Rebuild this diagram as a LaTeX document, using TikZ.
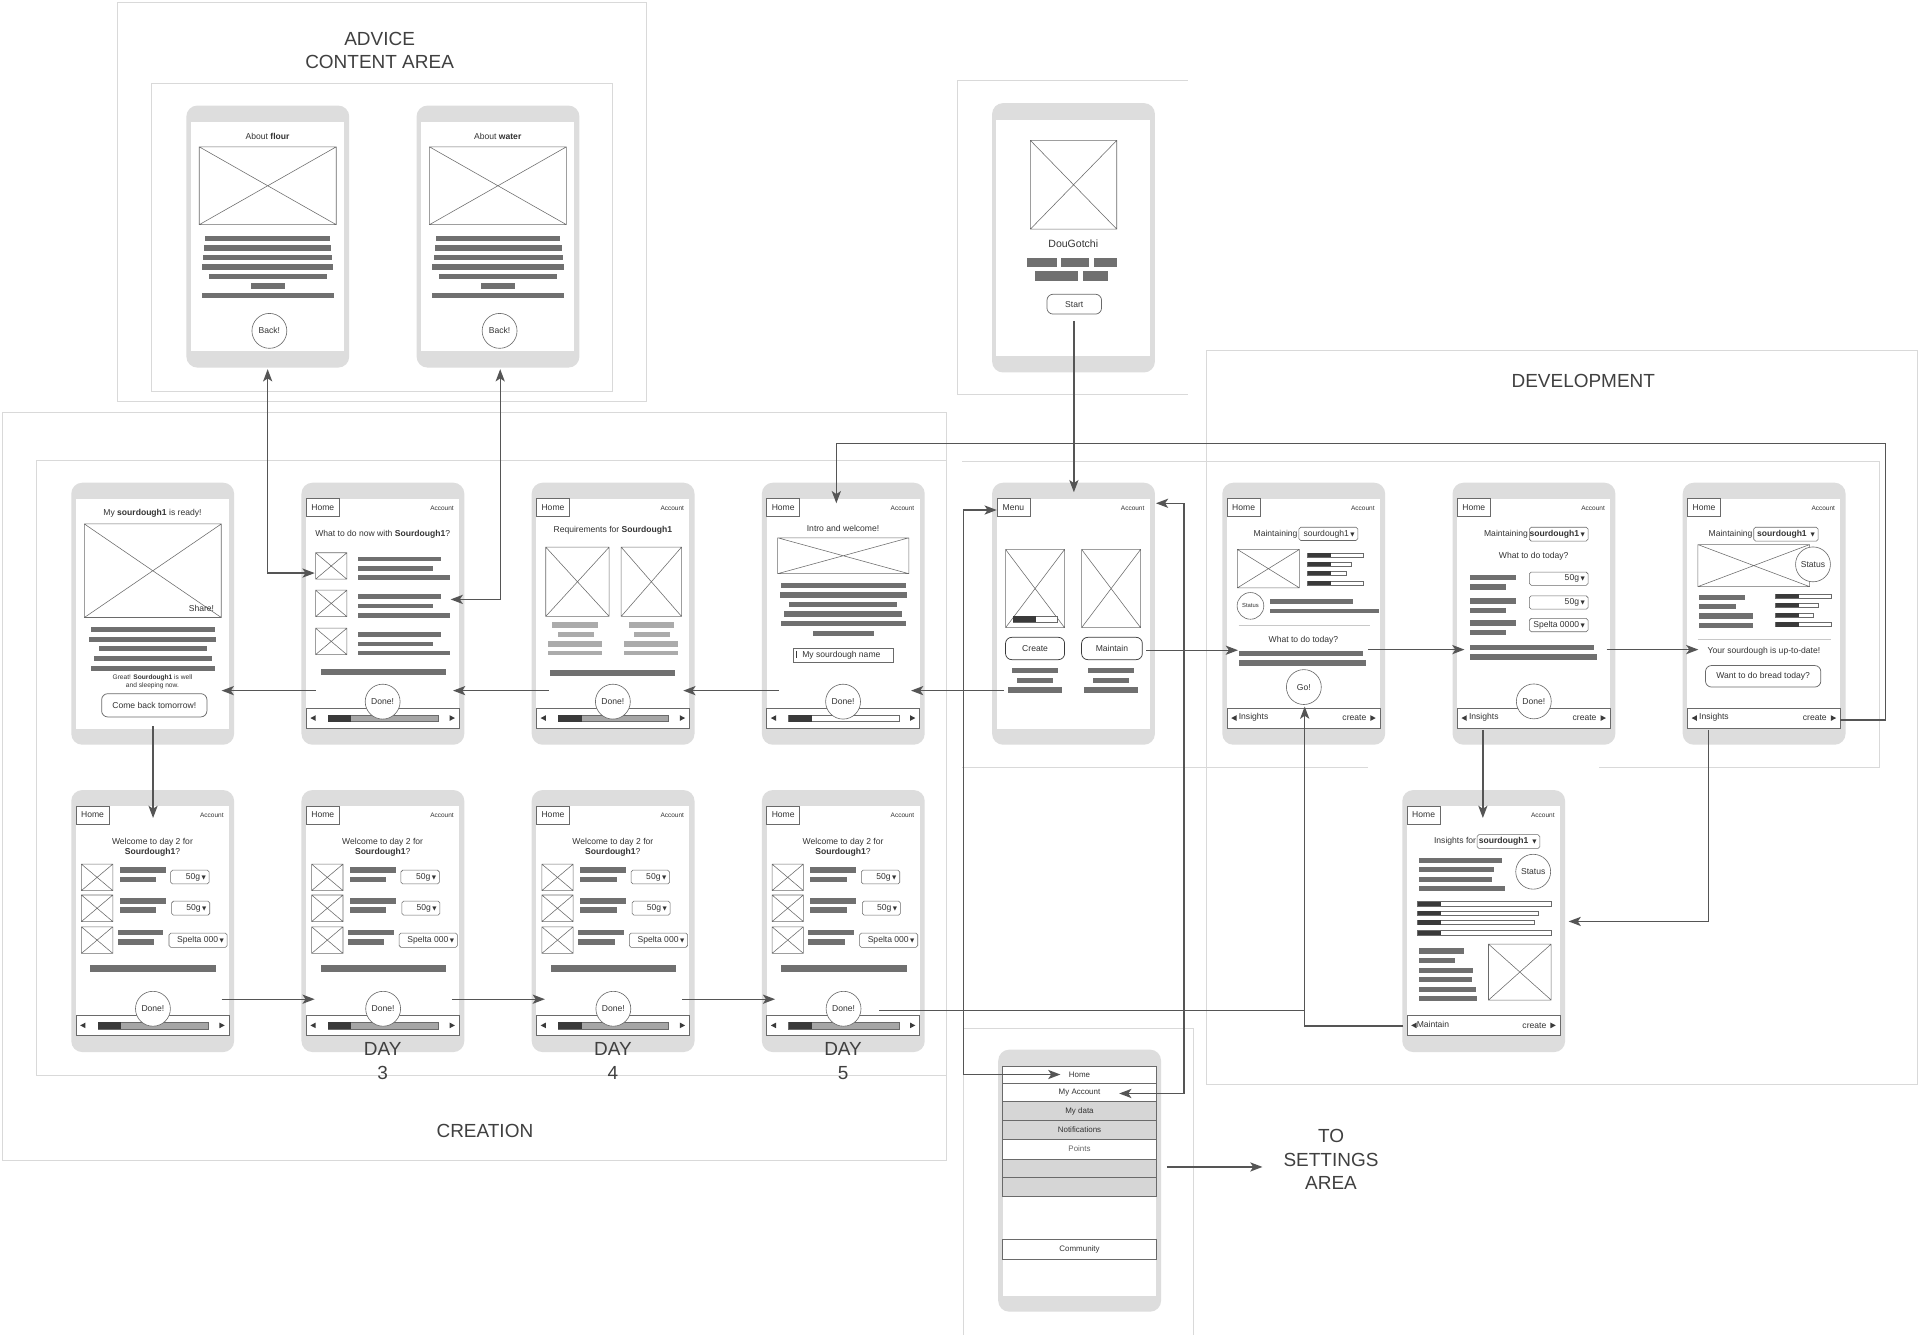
\documentclass[tikz,border=0pt]{standalone}
\usepackage{fontspec}
\setmainfont{Liberation Sans}
\newfontfamily\symf{DejaVu Sans}
\usetikzlibrary{arrows.meta}
\definecolor{phoneg}{HTML}{DDDDDD}
\definecolor{barg}{HTML}{707070}
\definecolor{darkg}{HTML}{3A3A3A}
\definecolor{lbarg}{HTML}{ABABAB}
\definecolor{progg}{HTML}{A6A6A6}
\definecolor{lineg}{HTML}{555555}
\definecolor{frameg}{HTML}{D9D9D9}
\definecolor{outl}{HTML}{6A6A6A}
\definecolor{txtc}{HTML}{333333}
\definecolor{rowg}{HTML}{D6D6D6}
\definecolor{sepg}{HTML}{C8C8C8}
\newcommand\ddtri{\hspace{1.2pt}{\symf\fontsize{4.5}{5}\selectfont ▼}}
\newcommand\wfimg[4]{\draw[imgbox] (#1,#2) rectangle (#3,#4) (#1,#2) -- (#3,#4) (#1,#4) -- (#3,#2);}
\newcommand\wfbar[4]{\fill[barg] (#1,#2) rectangle (#3,#4);}
\newcommand\wflbar[4]{\fill[lbarg] (#1,#2) rectangle (#3,#4);}
\newcommand\wfpbar[5]{\draw[outl,line width=.4pt,fill=white] (#1,#2) rectangle (#4,#5); \fill[darkg] (#1,#2) rectangle (#3,#5);}
\newcommand\wfscreen{\fill[white] (4,13.3) rectangle (129,201);}
\newcommand\wfhead[2]{\node[hdbox] (#1-hd) at (17.6,20.6) {#2}; \node[acct] (#1-ac) at (115,21) {Account};}
\newcommand\wfnav{\draw[navbox] (4,184.3) rectangle (129,200.5); \fill[darkg] (7.5,192.4) -- (11.8,190.1) -- (11.8,194.7) -- cycle; \fill[darkg] (125.5,192.4) -- (121.2,190.1) -- (121.2,194.7) -- cycle;}
\newcommand\wfprog[1]{\draw[outl,line width=.4pt,fill=#1] (22,189.7) rectangle (112,195.3); \fill[darkg] (22,189.7) rectangle (41,195.3);}
\newcommand\wfnavtx[3]{\node[tx,anchor=west] (#1-nl) at (13.5,191.6) {#2}; \node[tx,anchor=east] (#1-nr) at (118,192.4) {#3};}
\newcommand\wfdrop[6]{\draw[outl,line width=.45pt,rounded corners=1.5pt] (#2,#3) rectangle (#4,#5); \node[tx,anchor=east] (#1) at ({#4-2.5},{(#3+#5)/2}) {#6};}
\newcommand\wfadv[2]{%
 \node[phone] (#1) at (0,0) {};
 \fill[white] (4,13.5) rectangle (129,201);
 \node[tx] (#1-t) at (66.5,25.7) {About \textbf{#2}};
 \wfimg{10.7}{33.9}{122.6}{97.5}
 \wfbar{15.7}{106.5}{117.5}{110.8}
 \wfbar{14.9}{114.3}{118.6}{118.7}
 \wfbar{14.1}{122.2}{119.5}{126.5}
 \wfbar{13.2}{129.8}{120.3}{134.4}
 \wfbar{18.6}{137.9}{114.7}{142.2}
 \wfbar{53.2}{145.5}{80.5}{149.8}
 \wfbar{13}{153.3}{120.6}{157.7}
 \node[btncirc] (#1-bk) at (68,184.2) {Back!};}
\begin{document}
\begin{tikzpicture}[x=1pt,y=-1pt,
  phone/.style={fill=phoneg,rounded corners=9pt,minimum width=133pt,minimum height=214pt,anchor=north west,inner sep=0pt,draw=none},
  imgbox/.style={draw=outl,line width=.45pt},
  tx/.style={font=\fontsize{7}{8.2}\selectfont,text=txtc,inner sep=0pt},
  hdbox/.style={draw=outl,line width=.55pt,fill=white,minimum width=27pt,minimum height=14.5pt,inner sep=0pt,font=\fontsize{7}{8}\selectfont,text=txtc},
  acct/.style={font=\fontsize{5.3}{6}\selectfont,text=txtc,inner sep=0pt},
  navbox/.style={draw=outl,line width=.55pt,fill=white},
  btncirc/.style={circle,draw=outl,line width=.5pt,fill=white,minimum size=28.5pt,inner sep=0pt,font=\fontsize{7}{8}\selectfont,text=txtc},
  btnr/.style={draw=darkg,line width=.6pt,rounded corners=5pt,fill=white,inner sep=0pt,font=\fontsize{7}{8}\selectfont,text=txtc},
  conn/.style={draw=lineg,line width=1.1pt,-{Stealth[length=10pt,width=7.5pt,inset=2.5pt]}},
  conn2/.style={draw=lineg,line width=1.1pt,{Stealth[length=10pt,width=7.5pt,inset=2.5pt]}-{Stealth[length=10pt,width=7.5pt,inset=2.5pt]}},
  connl/.style={draw=lineg,line width=1.1pt},
  frame/.style={draw=frameg,line width=.7pt},
  big/.style={font=\fontsize{15.5}{19}\selectfont,text=black!75,align=center,inner sep=0pt},
  sepline/.style={draw=sepg,line width=.6pt},
  rowbox/.style={draw=outl,line width=.5pt,minimum width=125.6pt,inner sep=0pt,font=\fontsize{6.5}{7}\selectfont,text=txtc}]
\useasboundingbox (0,0) rectangle (1568,1090);
\fill[white] (0,0) rectangle (1568,1090);
% area frames
\draw[frame] (96,2) rectangle (528,328);
\draw[frame] (124,68) rectangle (500,320);
\draw[frame] (970,66) -- (782,66) -- (782,322) -- (970,322);
\draw[frame] (2,337) rectangle (773,948);
\draw[frame] (773,376) -- (30,376) -- (30,878) -- (773,878);
\draw[frame] (985,286) rectangle (1566,886);
\draw[frame] (786,377) -- (1535,377) -- (1535,627) -- (1306,627);
\draw[frame] (1117,627) -- (786,627);
\draw[frame] (787,1090) -- (787,840) -- (975,840) -- (975,1090);
% advice phones
\begin{scope}[shift={(152,86)}] \wfadv{adv1}{flour} \end{scope}
\begin{scope}[shift={(340,86)}] \wfadv{adv2}{water} \end{scope}
% start phone
\begin{scope}[shift={(810,84)}]
\node[phone,minimum height=220pt] (st) at (0,0) {};
\fill[white] (3.5,13.8) rectangle (129.5,206.5);
\wfimg{31.5}{30.7}{102}{103.1}
\node[tx,font=\fontsize{8.6}{10}\selectfont] (st-n) at (66.5,115) {DouGotchi};
\wfbar{28.5}{126.7}{53}{134.3} \wfbar{56.7}{126.7}{79.5}{134.3} \wfbar{83.3}{126.7}{102.6}{134.3}
\wfbar{35.3}{137.3}{70.3}{145.4} \wfbar{74.1}{137.3}{95.2}{145.4}
\node[btnr,draw=outl,minimum width=44.6pt,minimum height=16.2pt] (st-b) at (67.3,164.4) {Start};
\end{scope}
% C1
\begin{scope}[shift={(58,394)}]
\node[phone] (c1) at (0,0) {};
\wfscreen
\node[tx] (c1-t) at (66.5,25.5) {My \textbf{sourdough1} is ready!};
\wfimg{10.9}{33.9}{122.7}{110.3}
\node[tx] (c1-sh) at (106.5,102.5) {Share!};
\wfbar{16}{118.4}{117.5}{122.4}
\wfbar{14.9}{126}{118.6}{130}
\wfbar{22.8}{133.5}{110.7}{137.6}
\wfbar{18.7}{141.4}{114.8}{145.5}
\wfbar{16}{149.5}{117.5}{153.6}
\node[tx,font=\fontsize{5.4}{6.4}\selectfont,align=center] (c1-g) at (66.5,162.6) {Great! \textbf{Sourdough1} is well\\and sleeping now.};
\node[btnr,draw=outl,minimum width=86pt,minimum height=19pt] (c1-b) at (68,182) {Come back tomorrow!};
\end{scope}
% C2
\begin{scope}[shift={(246,394)}]
\node[phone] (c2) at (0,0) {};
\wfscreen \wfhead{c2}{Home}
\node[tx] (c2-t) at (66.5,42) {What to do now with \textbf{Sourdough1}?};
\foreach \dy in {0,30.6,61.6}{
 \wfimg{11.7}{57.4+\dy}{37.3}{79+\dy}
 \wfbar{46.3}{60.7+\dy}{114.5}{64.5+\dy}
 \wfbar{46.3}{68.3+\dy}{107.7}{72+\dy}
 \wfbar{46.3}{75.9+\dy}{121.3}{79.7+\dy}}
\wfbar{16.4}{152.3}{118}{156.9}
\wfnav \wfprog{progg}
\node[btncirc] (c2-dn) at (66.5,179) {Done!};
\end{scope}
% C3
\begin{scope}[shift={(434,394)}]
\node[phone] (c3) at (0,0) {};
\wfscreen \wfhead{c3}{Home}
\node[tx] (c3-t) at (66.5,39.3) {Requirements for \textbf{Sourdough1}};
\wfimg{11.7}{52.8}{63.5}{109.4} \wfimg{73.3}{52.8}{122.6}{109.4}
\foreach \dx in {0,62.1}{
 \wflbar{17.2+\dx}{114.3}{54.5+\dx}{118.6}
 \wflbar{21.3+\dx}{121.9}{50.7+\dx}{126.2}
 \wflbar{13.9+\dx}{129.8}{58+\dx}{134.1}
 \wflbar{13.9+\dx}{137.6}{58+\dx}{140.9}}
\wfbar{15.5}{153.3}{117.2}{158.2}
\wfnav \wfprog{progg}
\node[btncirc] (c3-dn) at (66.5,179) {Done!};
\end{scope}
% C4
\begin{scope}[shift={(622,394)}]
\node[phone] (c4) at (0,0) {};
\wfscreen \wfhead{c4}{Home}
\node[tx] (c4-t) at (66.5,37.9) {Intro and welcome!};
\wfimg{13.1}{45.2}{120.2}{74.5}
\wfbar{15.8}{81.8}{117.7}{86.1}
\wfbar{14.7}{89.4}{118.8}{94.3}
\wfbar{22.6}{97.5}{110.9}{101.9}
\wfbar{18.5}{105.1}{115}{109.7}
\wfbar{15.8}{113}{117.7}{117.3}
\wfbar{41.7}{121.1}{91.6}{125.2}
\draw[outl,line width=.45pt] (25.9,135.4) rectangle (107.9,146.8);
\draw[darkg,line width=.6pt] (28.6,137.6) -- (28.6,143.2);
\node[tx,anchor=west] (c4-in) at (33,141.1) {My sourdough name};
\wfnav \wfprog{white}
\node[btncirc] (c4-dn) at (66.5,179) {Done!};
\end{scope}
% Menu
\begin{scope}[shift={(810,394)}]
\node[phone] (mn) at (0,0) {};
\wfscreen \wfhead{mn}{Menu}
\wfimg{11.2}{54.7}{59.4}{118.6} \wfimg{73.3}{54.7}{121.5}{118.6}
\wfpbar{17.2}{109.4}{36.2}{53.1}{114.3}
\node[btnr,minimum width=48.2pt,minimum height=18.2pt] (mn-cr) at (35.3,135.6) {Create};
\node[btnr,minimum width=49.6pt,minimum height=18.2pt] (mn-mt) at (98.1,135.6) {Maintain};
\foreach \dx in {0,62.1}{
 \wfbar{16.4+\dx}{151.7}{54+\dx}{156}
 \wfbar{20.4+\dx}{159.6}{50.1+\dx}{163.9}
 \wfbar{13.1+\dx}{167.1}{57.5+\dx}{172}}
\end{scope}
% D1
\begin{scope}[shift={(998,394)}]
\node[phone] (d1) at (0,0) {};
\wfscreen \wfhead{d1}{Home}
\node[tx,anchor=east] (d1-m) at (61.8,42) {Maintaining};
\wfdrop{d1-s}{62.7}{36.6}{110.9}{47.4}{sourdough1\ddtri}
\wfimg{12.5}{54.7}{63.2}{86.1}
\wfpbar{69.8}{57.4}{88.9}{115.3}{60.7}
\wfpbar{69.8}{65}{88.9}{105.2}{68.3}
\wfpbar{69.8}{72.6}{88.9}{101.4}{75.9}
\wfpbar{69.8}{80.7}{88.9}{115.3}{84}
\node[btncirc,minimum size=21.8pt,font=\fontsize{4.8}{5}\selectfont] (d1-st) at (23.2,100.8) {Status};
\wfbar{39}{95.4}{106.8}{99.4}
\wfbar{39}{103}{128}{107}
\draw[sepline] (13.6,117) -- (120.7,117);
\node[tx] (d1-q) at (66.5,128.7) {What to do today?};
\wfbar{13.6}{137.3}{115}{142}
\wfbar{13.6}{145}{117.7}{149.5}
\wfnav \wfnavtx{d1}{Insights}{create}
\node[btncirc] (d1-go) at (66.8,167.1) {Go!};
\end{scope}
% D2
\begin{scope}[shift={(1186,394)}]
\node[phone] (d2) at (0,0) {};
\wfscreen \wfhead{d2}{Home}
\node[tx,anchor=east] (d2-m) at (62,42) {Maintaining};
\wfdrop{d2-s}{63}{36.6}{110.9}{47.9}{\textbf{sourdough1}\ddtri}
\node[tx] (d2-q) at (66.5,60.2) {What to do today?};
\wfbar{14.7}{75.3}{52}{79.7} \wfbar{14.7}{83.2}{44.2}{87.5}
\wfdrop{d2-r1}{63}{73.2}{110.9}{84}{50g\ddtri}
\wfbar{14.7}{94.5}{52}{98.9} \wfbar{14.7}{102.4}{44.2}{106.7}
\wfdrop{d2-r2}{63}{92.6}{110.9}{103.5}{50g\ddtri}
\wfbar{14.7}{112.7}{52}{117} \wfbar{14.7}{120.5}{44.2}{124.9}
\wfdrop{d2-r3}{63}{111}{110.9}{121.9}{Spelta 0000\ddtri}
\wfbar{14.7}{132.5}{115.6}{136.8}
\wfbar{14.7}{140.3}{118.1}{144.7}
\wfnav \wfnavtx{d2}{Insights}{create}
\node[btncirc] (d2-dn) at (66.6,178.8) {Done!};
\end{scope}
% D3
\begin{scope}[shift={(1374,394)}]
\node[phone] (d3) at (0,0) {};
\wfscreen \wfhead{d3}{Home}
\node[tx,anchor=east] (d3-m) at (57.4,42) {Maintaining};
\wfdrop{d3-s}{58.2}{36.6}{110.8}{47.9}{\textbf{sourdough1} \ddtri}
\wfimg{12.5}{50.7}{103.9}{85.1}
\node[btncirc] (d3-st) at (106.6,66.9) {Status};
\wfbar{13.3}{91.6}{50.7}{95.9}
\wfbar{13.3}{99.2}{43.5}{103.5}
\wfbar{13.3}{107}{57.9}{111.4}
\wfbar{13.3}{114.6}{57.9}{118.9}
\wfpbar{76}{91}{95.4}{121.3}{94.6}
\wfpbar{76}{98.6}{95.4}{110.8}{102.1}
\wfpbar{76}{106.5}{95.4}{107.2}{110}
\wfpbar{76}{114.3}{95.4}{121.3}{117.8}
\draw[sepline] (12.5,127.9) -- (121.3,127.9);
\node[tx] (d3-u) at (66.5,138.2) {Your sourdough is up-to-date!};
\node[btnr,draw=outl,minimum width=94.2pt,minimum height=17.6pt] (d3-b) at (65.9,158.3) {Want to do bread today?};
\wfnav \wfnavtx{d3}{Insights}{create}
\end{scope}
% Insights
\begin{scope}[shift={(1145,645)}]
\node[phone] (ins) at (0,0) {};
\wfscreen \wfhead{ins}{Home}
\node[tx,anchor=east] (ins-m) at (60.6,42) {Insights for};
\wfdrop{ins-s}{61.3}{36.6}{112.5}{47.9}{\textbf{sourdough1} \ddtri}
\wfbar{13.6}{55.3}{81.7}{59.6}
\wfbar{13.6}{63.1}{74.9}{67.5}
\wfbar{13.6}{71}{73.6}{75.3}
\wfbar{13.6}{78.6}{83.9}{82.9}
\node[btncirc] (ins-st) at (107.1,66.9) {Status};
\wfpbar{12.8}{91.3}{31.9}{121.8}{94.8}
\wfpbar{12.8}{98.9}{31.9}{111.2}{102.4}
\wfpbar{12.8}{106.5}{31.9}{107.6}{110}
\wfpbar{12.8}{114.9}{31.9}{121.8}{118.4}
\wfbar{13.6}{129.5}{50.4}{133.8}
\wfbar{13.6}{137.4}{43}{141.7}
\wfbar{13.6}{145.2}{57.8}{149.5}
\wfbar{13.6}{152.8}{57.3}{157.1}
\wfbar{13.6}{160.9}{60}{165.2}
\wfbar{13.6}{168.5}{60.8}{172.8}
\wfimg{70.6}{126}{121.8}{171.7}
\wfnav
\node[tx,anchor=west] (ins-nl) at (11.8,191.4) {Maintain};
\node[tx,anchor=east] (ins-nr) at (118,192.4) {create};
\end{scope}
% Day 2..5
\foreach \i/\nm in {0/da,1/db,2/dc,3/dd}{
\begin{scope}[shift={({58+188*\i},645)}]
\node[phone] (\nm) at (0,0) {};
\wfscreen \wfhead{\nm}{Home}
\node[tx,align=center] (\nm-t) at (66.5,46.6) {Welcome to day 2 for\\\textbf{Sourdough1}?};
\wfimg{8.5}{60.7}{34.1}{82.3}
\wfimg{8.5}{85.9}{34.1}{107.6}
\wfimg{8.5}{111.9}{34.1}{133.6}
\wfbar{39.6}{63.1}{77.3}{67.7} \wfbar{39.6}{71}{69.6}{75.6}
\wfbar{39.6}{88.3}{77.3}{92.9} \wfbar{39.6}{96.1}{69.6}{100.8}
\wfbar{38.2}{114.3}{75.4}{118.9} \wfbar{38.2}{121.9}{68}{126.5}
\wfdrop{\nm-r1}{81.4}{65.6}{112.8}{76.9}{50g\ddtri}
\wfdrop{\nm-r2}{82.2}{90.9}{113.3}{102.4}{50g\ddtri}
\wfdrop{\nm-r3}{80}{117}{127.5}{128.7}{Spelta 000\ddtri}
\wfbar{15.8}{143.3}{118.3}{148.4}
\wfnav \wfprog{progg}
\node[btncirc] (\nm-dn) at (66.9,178.8) {Done!};
\end{scope}}
% Settings menu
\begin{scope}[shift={(815,857)}]
\node[phone] (se) at (0,0) {};
\fill[white] (3.8,13.5) rectangle (129.4,201.5);
\node[rowbox,fill=white,minimum height=14.1pt] (se-home) at (66.6,20.55) {Home};
\node[rowbox,fill=white,minimum height=15.2pt] (se-acc) at (66.6,35.15) {My Account};
\node[rowbox,fill=rowg,minimum height=15.1pt] (se-data) at (66.6,50.3) {My data};
\node[rowbox,fill=rowg,minimum height=15.2pt] (se-not) at (66.6,65.5) {Notifications};
\node[rowbox,fill=white,minimum height=16.3pt,text=txtc!75] (se-pts) at (66.6,81.25) {Points};
\node[rowbox,fill=rowg,minimum height=15.4pt] (se-e1) at (66.6,97.1) {};
\node[rowbox,fill=rowg,minimum height=15.5pt] (se-e2) at (66.6,112.55) {};
\node[rowbox,fill=white,minimum height=16.2pt] (se-com) at (66.6,163.1) {Community};
\end{scope}
% labels
\node[big] (lab-adv) at (310,41.5) {ADVICE\\CONTENT AREA};
\node[big] (lab-dev) at (1293,311) {DEVELOPMENT};
\node[big] (lab-cre) at (396,924) {CREATION};
\node[big] (lab-d3) at (312.5,866.5) {DAY\\3};
\node[big] (lab-d4) at (500.5,866.5) {DAY\\4};
\node[big] (lab-d5) at (688.5,866.5) {DAY\\5};
\node[big] (lab-set) at (1087,947) {TO\\SETTINGS\\AREA};
% connector coordinates
\coordinate (k1a) at (877,262);   \coordinate (k1b) at (877,402);
\coordinate (k2a) at (820,564);   \coordinate (k2b) at (744,564);
\coordinate (k3a) at (636,564);   \coordinate (k3b) at (558,564);
\coordinate (k4a) at (448,564);   \coordinate (k4b) at (370,564);
\coordinate (k5a) at (258,564);   \coordinate (k5b) at (181,564);
\coordinate (k6a) at (125,593);   \coordinate (k6b) at (125,668);
\coordinate (k7a) at (181,816);   \coordinate (k7b) at (257,816);
\coordinate (k8a) at (369,816);   \coordinate (k8b) at (445,816);
\coordinate (k9a) at (557,816);   \coordinate (k9b) at (633,816);
\coordinate (k10a) at (718,825);  \coordinate (k10j) at (1065.5,825); \coordinate (k10b) at (1065.5,577);
\coordinate (k11a) at (1146,838); \coordinate (k11j) at (1065.5,838);
\coordinate (k12a) at (257,468);  \coordinate (k12j) at (218.6,468); \coordinate (k12b) at (218.6,301.5);
\coordinate (k13a) at (368,489.5); \coordinate (k13j) at (408.5,489.5); \coordinate (k13b) at (408.5,301.5);
\coordinate (k14a) at (936,531);  \coordinate (k14b) at (1011,531);
\coordinate (k15a) at (1117,530.5); \coordinate (k15b) at (1196,530.5);
\coordinate (k16a) at (1312,530.5); \coordinate (k16b) at (1387,530.5);
\coordinate (k17a) at (1503,588); \coordinate (k17j1) at (1540,588); \coordinate (k17j2) at (1540,362); \coordinate (k17j3) at (683,362); \coordinate (k17b) at (683,411);
\coordinate (k18a) at (1211,596); \coordinate (k18b) at (1211,668);
\coordinate (k19a) at (1395.5,596); \coordinate (k19j) at (1395.5,752.5); \coordinate (k19b) at (1281,752.5);
\coordinate (k20a) at (814,416.5); \coordinate (k20j1) at (787,416.5); \coordinate (k20j2) at (787,877.5); \coordinate (k20b) at (866,877.5);
\coordinate (k21a) at (944,411);  \coordinate (k21j1) at (967,411); \coordinate (k21j2) at (967,893); \coordinate (k21b) at (914,893);
\coordinate (k22a) at (953,953);  \coordinate (k22b) at (1031,953);
% connectors
\draw[conn] (k1a) -- (k1b);
\draw[conn] (k2a) -- (k2b);
\draw[conn] (k3a) -- (k3b);
\draw[conn] (k4a) -- (k4b);
\draw[conn] (k5a) -- (k5b);
\draw[conn] (k6a) -- (k6b);
\draw[conn] (k7a) -- (k7b);
\draw[conn] (k8a) -- (k8b);
\draw[conn] (k9a) -- (k9b);
\draw[conn] (k11a) -- (k11j) -- (k10b);
\draw[connl] (k10a) -- (k10j);
\draw[conn2] (k12a) -- (k12j) -- (k12b);
\draw[conn2] (k13a) -- (k13j) -- (k13b);
\draw[conn] (k14a) -- (k14b);
\draw[conn] (k15a) -- (k15b);
\draw[conn] (k16a) -- (k16b);
\draw[conn] (k17a) -- (k17j1) -- (k17j2) -- (k17j3) -- (k17b);
\draw[conn] (k18a) -- (k18b);
\draw[conn] (k19a) -- (k19j) -- (k19b);
\draw[conn2] (k20a) -- (k20j1) -- (k20j2) -- (k20b);
\draw[conn2] (k21a) -- (k21j1) -- (k21j2) -- (k21b);
\draw[conn] (k22a) -- (k22b);
\end{tikzpicture}
\end{document}
